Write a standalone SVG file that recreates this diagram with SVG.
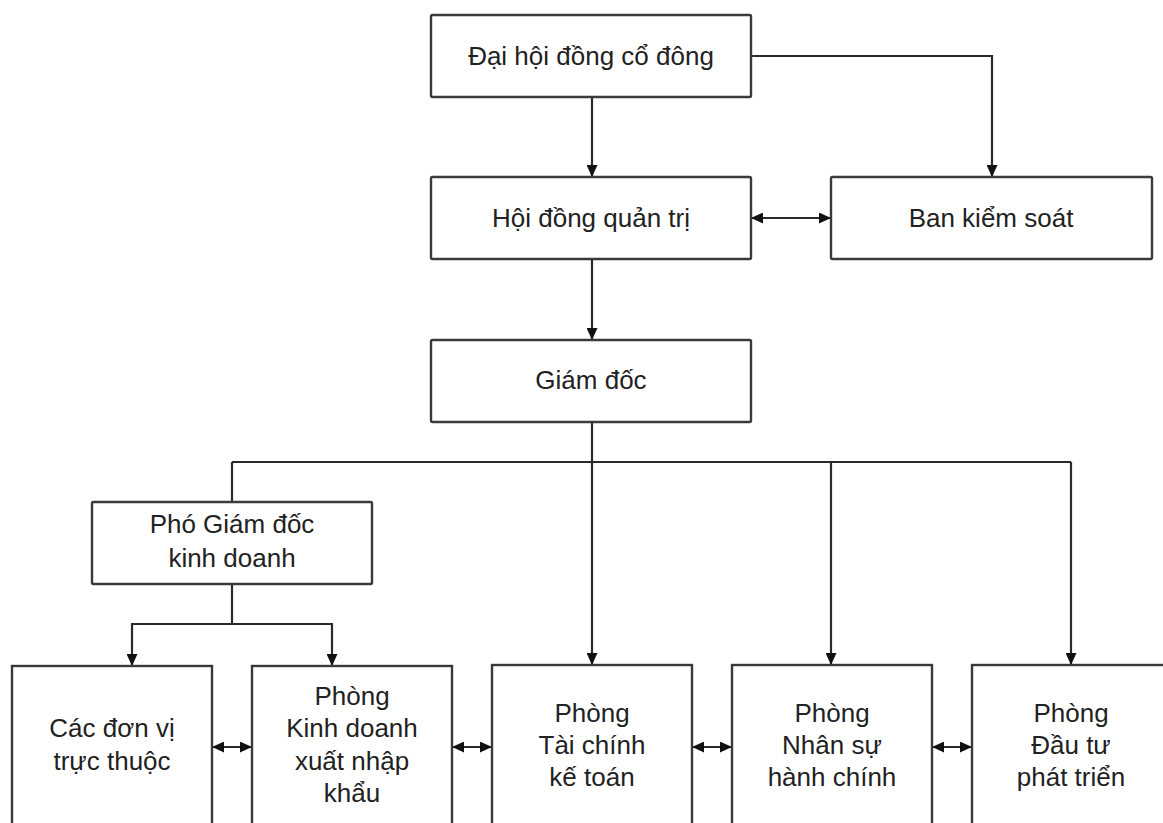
<svg xmlns="http://www.w3.org/2000/svg" width="1163" height="823" viewBox="0 0 1163 823">
<style>
.box{fill:#fff;stroke:#3a3a3a;stroke-width:2.4}
.t{font-family:"Liberation Sans",Arial,sans-serif;font-size:26px;fill:#222;text-anchor:middle}
.c{fill:none;stroke:#2a2a2a;stroke-width:2.2}
</style>
<defs>
<marker id="ah" viewBox="0 0 12 11" refX="12" refY="5.5" markerWidth="12" markerHeight="11" markerUnits="userSpaceOnUse" orient="auto-start-reverse">
<path d="M0,0 L12,5.5 L0,11 z" fill="#111"/>
</marker>
</defs>
<rect width="1163" height="823" fill="#fff"/>
<g id="connectors">
<line class="c" x1="592" y1="97" x2="592" y2="177" marker-end="url(#ah)"/>
<polyline class="c" points="751,56 992,56 992,177" marker-end="url(#ah)"/>
<line class="c" x1="751" y1="218" x2="831" y2="218" marker-start="url(#ah)" marker-end="url(#ah)"/>
<line class="c" x1="592" y1="259" x2="592" y2="340" marker-end="url(#ah)"/>
<line class="c" x1="592" y1="422" x2="592" y2="665" marker-end="url(#ah)"/>
<line class="c" x1="232" y1="462" x2="1071" y2="462"/>
<line class="c" x1="232" y1="462" x2="232" y2="502"/>
<line class="c" x1="831" y1="462" x2="831" y2="665" marker-end="url(#ah)"/>
<line class="c" x1="1071" y1="462" x2="1071" y2="665" marker-end="url(#ah)"/>
<line class="c" x1="232" y1="584" x2="232" y2="624"/>
<polyline class="c" points="132,666 132,624 332,624 332,666" marker-start="url(#ah)" marker-end="url(#ah)"/>
<line class="c" x1="212" y1="747" x2="252" y2="747" marker-start="url(#ah)" marker-end="url(#ah)"/>
<line class="c" x1="452" y1="747" x2="492" y2="747" marker-start="url(#ah)" marker-end="url(#ah)"/>
<line class="c" x1="692" y1="747" x2="732" y2="747" marker-start="url(#ah)" marker-end="url(#ah)"/>
<line class="c" x1="932" y1="747" x2="972" y2="747" marker-start="url(#ah)" marker-end="url(#ah)"/>
</g>
<g id="dai-hoi"><rect class="box" x="431" y="15" width="320" height="82" rx="1.5"/><text class="t" x="591" y="65">Đại hội đồng cổ đông</text></g>
<g id="hdqt"><rect class="box" x="431" y="177" width="320" height="82" rx="1.5"/><text class="t" x="591" y="227">Hội đồng quản trị</text></g>
<g id="bks"><rect class="box" x="831" y="177" width="321" height="82" rx="1.5"/><text class="t" x="991" y="227">Ban kiểm soát</text></g>
<g id="giam-doc"><rect class="box" x="431" y="340" width="320" height="82" rx="1.5"/><text class="t" x="591" y="389">Giám đốc</text></g>
<g id="pho-gd"><rect class="box" x="92" y="502" width="280" height="82" rx="1.5"/><text class="t" x="232" y="533">Phó Giám đốc</text><text class="t" x="232" y="567">kinh doanh</text></g>
<g id="don-vi"><rect class="box" x="12" y="666" width="200" height="180"/><text class="t" x="112" y="737">Các đơn vị</text><text class="t" x="112" y="770">trực thuộc</text></g>
<g id="kinh-doanh"><rect class="box" x="252" y="666" width="200" height="180"/><text class="t" x="352" y="705">Phòng</text><text class="t" x="352" y="737">Kinh doanh</text><text class="t" x="352" y="770">xuất nhập</text><text class="t" x="352" y="802">khẩu</text></g>
<g id="tai-chinh"><rect class="box" x="492" y="665" width="200" height="180"/><text class="t" x="592" y="722">Phòng</text><text class="t" x="592" y="754">Tài chính</text><text class="t" x="592" y="786">kế toán</text></g>
<g id="nhan-su"><rect class="box" x="732" y="665" width="200" height="180"/><text class="t" x="832" y="722">Phòng</text><text class="t" x="832" y="754">Nhân sự</text><text class="t" x="832" y="786">hành chính</text></g>
<g id="dau-tu"><rect class="box" x="972" y="665" width="200" height="180"/><text class="t" x="1071" y="722">Phòng</text><text class="t" x="1071" y="754">Đầu tư</text><text class="t" x="1071" y="786">phát triển</text></g>
</svg>
